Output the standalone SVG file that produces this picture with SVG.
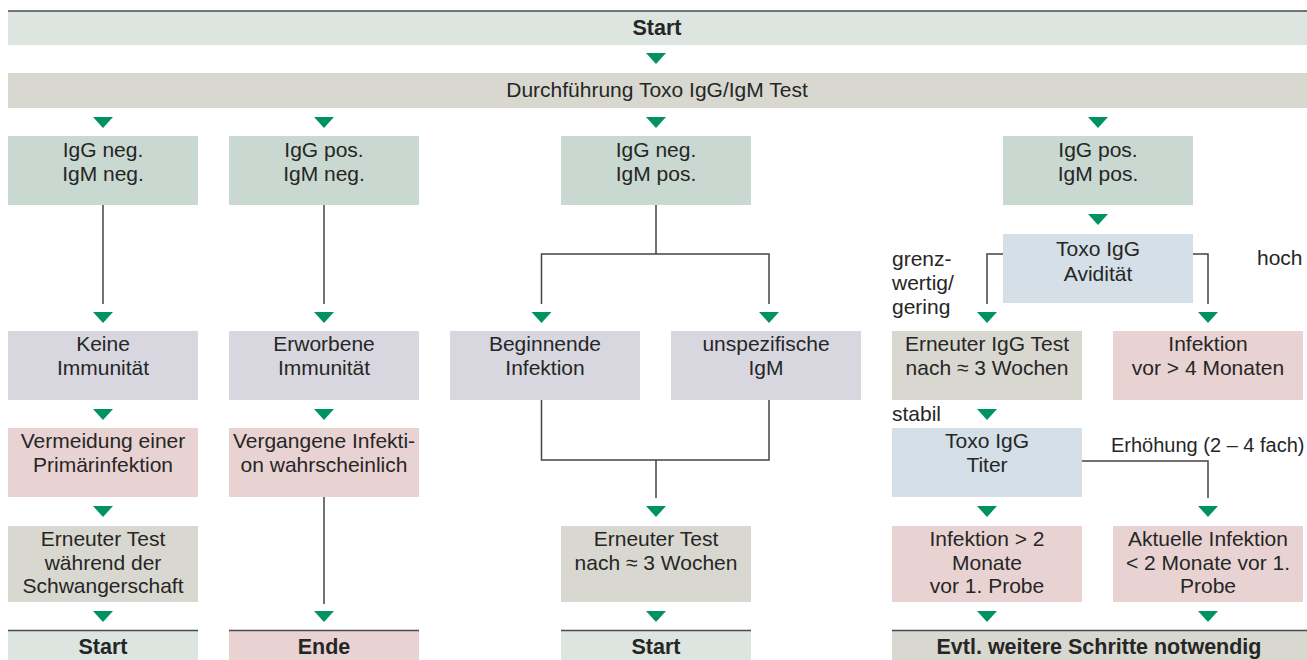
<svg xmlns="http://www.w3.org/2000/svg" xmlns:xlink="http://www.w3.org/1999/xlink" width="1307" height="660" viewBox="0 0 1307 660">
<style>
text{font-family:"Liberation Sans",Arial,sans-serif;font-size:21px;fill:#262626;text-anchor:middle}
.b{font-weight:bold;font-size:21.5px}
.l{text-anchor:start}
.lab{font-size:20px}
.start{fill:#dce5e0}
.test{fill:#d8d8d0}
.ig{fill:#c9d8d0}
.im{fill:#d8d7e0}
.pk{fill:#e8d3d2}
.bl{fill:#d4dfe7}
.top{stroke:#4a4a4a;stroke-width:1.6}
.c{fill:none;stroke:#444;stroke-width:1.5}
</style>
<defs>
<path id="tri" d="M-10,0 L10,0 L0,11 Z" fill="#00925f"/>
</defs>

<g id="connectors">
<path class="c" d="M103,205 V304"/>
<path class="c" d="M324,205 V304"/>
<path class="c" d="M324,497 V604"/>
<path class="c" d="M656,205 V254 M541.5,304 V254 H769 V304"/>
<path class="c" d="M541.5,400 V460 H769 V400 M656,460 V498"/>
<path class="c" d="M1003,254 H987 V304 M1193,254 H1208 V304"/>
<path class="c" d="M1082,461 H1208 V498"/>
<use xlink:href="#tri" x="656" y="53"/>
<use xlink:href="#tri" x="103" y="117"/>
<use xlink:href="#tri" x="324" y="117"/>
<use xlink:href="#tri" x="656" y="117"/>
<use xlink:href="#tri" x="1098" y="117"/>
<use xlink:href="#tri" x="1098" y="214"/>
<use xlink:href="#tri" x="103" y="312"/>
<use xlink:href="#tri" x="324" y="312"/>
<use xlink:href="#tri" x="541.5" y="312"/>
<use xlink:href="#tri" x="769" y="312"/>
<use xlink:href="#tri" x="987" y="312"/>
<use xlink:href="#tri" x="1208" y="312"/>
<use xlink:href="#tri" x="103" y="409"/>
<use xlink:href="#tri" x="324" y="409"/>
<use xlink:href="#tri" x="987" y="409"/>
<use xlink:href="#tri" x="103" y="506"/>
<use xlink:href="#tri" x="656" y="506"/>
<use xlink:href="#tri" x="987" y="506"/>
<use xlink:href="#tri" x="1208" y="506"/>
<use xlink:href="#tri" x="103" y="611"/>
<use xlink:href="#tri" x="324" y="611"/>
<use xlink:href="#tri" x="656" y="611"/>
<use xlink:href="#tri" x="987" y="611"/>
<use xlink:href="#tri" x="1208" y="611"/>
<text class="l" x="892" y="266">grenz-</text>
<text class="l" x="892" y="290">wertig/</text>
<text class="l" x="892" y="314">gering</text>
<text class="l" x="1257" y="265">hoch</text>
<text class="l" x="892" y="421">stabil</text>
<text class="l lab" x="1111" y="452">Erhöhung (2 – 4 fach)</text>
</g>

<g id="start-top">
<rect class="start" x="8" y="11" width="1299" height="34"/>
<line class="top" x1="8" y1="11" x2="1307" y2="11"/>
<text class="b" x="657" y="35">Start</text>
</g>
<g id="durchfuehrung">
<rect class="test" x="8" y="73" width="1299" height="35"/>
<text x="657" y="97">Durchführung Toxo IgG/IgM Test</text>
</g>

<g id="n-igg-neg-igm-neg">
<rect class="ig" x="8" y="136" width="190" height="69"/>
<text x="103" y="157">IgG neg.</text><text x="103" y="181">IgM neg.</text>
</g>
<g id="n-igg-pos-igm-neg">
<rect class="ig" x="229" y="136" width="190" height="69"/>
<text x="324" y="157">IgG pos.</text><text x="324" y="181">IgM neg.</text>
</g>
<g id="n-igg-neg-igm-pos">
<rect class="ig" x="561" y="136" width="190" height="69"/>
<text x="656" y="157">IgG neg.</text><text x="656" y="181">IgM pos.</text>
</g>
<g id="n-igg-pos-igm-pos">
<rect class="ig" x="1003" y="136" width="190" height="69"/>
<text x="1098" y="157">IgG pos.</text><text x="1098" y="181">IgM pos.</text>
</g>
<g id="n-avid">
<rect class="bl" x="1003" y="234" width="190" height="69"/>
<text x="1098" y="256">Toxo IgG</text><text x="1098" y="281">Avidität</text>
</g>

<g id="n-keine">
<rect class="im" x="8" y="331" width="190" height="69"/>
<text x="103" y="351">Keine</text><text x="103" y="375">Immunität</text>
</g>
<g id="n-erworbene">
<rect class="im" x="229" y="331" width="190" height="69"/>
<text x="324" y="351">Erworbene</text><text x="324" y="375">Immunität</text>
</g>
<g id="n-beginnende">
<rect class="im" x="450" y="331" width="190" height="69"/>
<text x="545" y="351">Beginnende</text><text x="545" y="375">Infektion</text>
</g>
<g id="n-unspez">
<rect class="im" x="671" y="331" width="190" height="69"/>
<text x="766" y="351">unspezifische</text><text x="766" y="375">IgM</text>
</g>
<g id="n-erneuter-igg">
<rect class="test" x="892" y="331" width="190" height="69"/>
<text x="987" y="351">Erneuter IgG Test</text><text x="987" y="375">nach ≈ 3 Wochen</text>
</g>
<g id="n-inf-4">
<rect class="pk" x="1113" y="331" width="190" height="69"/>
<text x="1208" y="351">Infektion</text><text x="1208" y="375">vor &gt; 4 Monaten</text>
</g>

<g id="n-vermeidung">
<rect class="pk" x="8" y="428" width="190" height="69"/>
<text x="103" y="448">Vermeidung einer</text><text x="103" y="472">Primärinfektion</text>
</g>
<g id="n-vergangene">
<rect class="pk" x="229" y="428" width="190" height="69"/>
<text x="324" y="448">Vergangene Infekti-</text><text x="324" y="472">on wahrscheinlich</text>
</g>
<g id="n-titer">
<rect class="bl" x="892" y="428" width="190" height="69"/>
<text x="987" y="448">Toxo IgG</text><text x="987" y="472">Titer</text>
</g>

<g id="n-erneuter-schw">
<rect class="test" x="8" y="526" width="190" height="76"/>
<text x="103" y="546">Erneuter Test</text><text x="103" y="570">während der</text><text x="103" y="593">Schwangerschaft</text>
</g>
<g id="n-erneuter-3w">
<rect class="test" x="561" y="526" width="190" height="76"/>
<text x="656" y="546">Erneuter Test</text><text x="656" y="570">nach ≈ 3 Wochen</text>
</g>
<g id="n-inf-2">
<rect class="pk" x="892" y="526" width="190" height="76"/>
<text x="987" y="546">Infektion &gt; 2</text><text x="987" y="570">Monate</text><text x="987" y="593">vor 1. Probe</text>
</g>
<g id="n-aktuelle">
<rect class="pk" x="1113" y="526" width="190" height="76"/>
<text x="1208" y="546">Aktuelle Infektion</text><text x="1208" y="570">&lt; 2 Monate vor 1.</text><text x="1208" y="593">Probe</text>
</g>

<g id="end-start-1">
<rect class="start" x="8" y="630" width="190" height="30"/>
<line class="top" x1="8" y1="630.5" x2="198" y2="630.5"/>
<text class="b" x="103" y="654">Start</text>
</g>
<g id="end-ende">
<rect class="pk" x="229" y="630" width="190" height="30"/>
<line class="top" x1="229" y1="630.5" x2="419" y2="630.5"/>
<text class="b" x="324" y="654">Ende</text>
</g>
<g id="end-start-2">
<rect class="start" x="561" y="630" width="190" height="30"/>
<line class="top" x1="561" y1="630.5" x2="751" y2="630.5"/>
<text class="b" x="656" y="654">Start</text>
</g>
<g id="end-evtl">
<rect class="test" x="892" y="630" width="415" height="30"/>
<line class="top" x1="892" y1="630.5" x2="1307" y2="630.5"/>
<text class="b" x="1099" y="654">Evtl. weitere Schritte notwendig</text>
</g>
</svg>
